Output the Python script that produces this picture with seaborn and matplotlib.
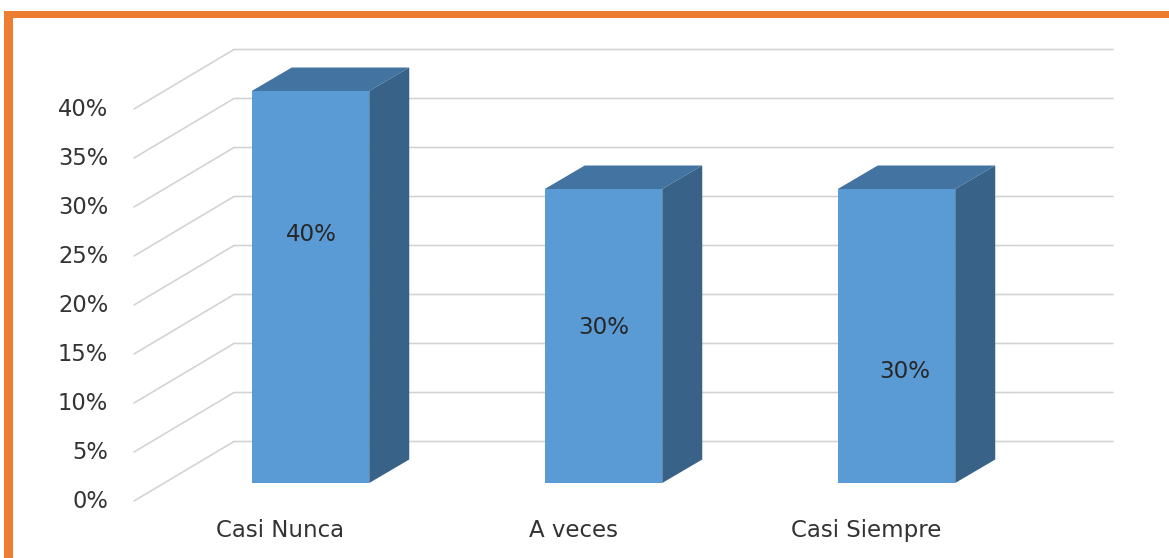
import matplotlib
matplotlib.use("Agg")
import matplotlib.pyplot as plt
import matplotlib.transforms as mtrans
from matplotlib.patches import Polygon, Rectangle
import seaborn as sns

categories = ["Casi Nunca", "A veces", "Casi Siempre"]
values = [40, 30, 30]
value_labels = ["40%", "30%", "30%"]
y_ticks = [0, 5, 10, 15, 20, 25, 30, 35, 40]
y_tick_labels = ["0%", "5%", "10%", "15%", "20%", "25%", "30%", "35%", "40%"]

W, H = 1169, 558
FRONT, TOP, SIDE = "#5B9BD5", "#4374A1", "#386288"
GRID, TEXT, ORANGE = "#D2D2D2", "#333333", "#ED7D31"

sns.set_theme(style="white")
plt.rcParams["font.family"] = ["DejaVu Sans"]

fig = plt.figure(figsize=(W / 100, H / 100), dpi=100, facecolor="white")

# Plot plane in pixels: the front face of the bars
L, R, T, B = 134, 1113, 91, 483
ax = fig.add_axes([L / W, 1 - B / H, (R - L) / W, (B - T) / H])

sns.barplot(x=categories, y=values, color=FRONT, saturation=1, width=0.401,
            ax=ax, zorder=3, linewidth=0)

SPACING, C0 = 293, 310.5
ax.set_xlim((L - C0) / SPACING, (R - C0) / SPACING)
ax.set_ylim(0, 40)
ax.set_xlabel("")
ax.set_ylabel("")
sns.despine(ax=ax, left=True, bottom=True, top=True, right=True)
ax.patch.set_alpha(0)

px_x = 1 / SPACING
px_y = 40 / (B - T)

# Walls: side wall from x=134 to x=234, back wall from x=234 to x=1113
wall_left = ax.get_xlim()[0]
wall_mid = wall_left + 100 * px_x
wall_right = ax.get_xlim()[1]
front_drop = 18 * px_y
back_rise = 41.5 * px_y
for t in y_ticks:
    ax.plot([wall_left, wall_mid, wall_right],
            [t - front_drop, t + back_rise, t + back_rise],
            color=GRID, lw=1.15, clip_on=False, zorder=1,
            solid_joinstyle="miter")

# Bar depth: top and side faces derived from each bar drawn by seaborn
dx, dy = 40 * px_x, 23.5 * px_y
for bar in ax.patches[:len(values)]:
    x0, x1 = bar.get_x(), bar.get_x() + bar.get_width()
    h = bar.get_height()
    ax.add_patch(Polygon([(x0, h), (x1, h), (x1 + dx, h + dy), (x0 + dx, h + dy)],
                         closed=True, fc=TOP, ec="none", clip_on=False, zorder=2.5))
    ax.add_patch(Polygon([(x1, 0), (x1 + dx, dy), (x1 + dx, h + dy), (x1, h)],
                         closed=True, fc=SIDE, ec="none", clip_on=False, zorder=2.5))

# Value labels: placed inside the bars at the reference's hand-moved spots
label_x_shift = [0.5, 0, 8.5]
label_heights = [25.4, 15.9, 11.4]
for i, (lab, ly, sh) in enumerate(zip(value_labels, label_heights, label_x_shift)):
    ax.text(i + sh * px_x, ly, lab, ha="center", va="center",
            fontsize=16.6, color="#262626", zorder=5)

# Axis tick labels, shifted to the front edge of the floor
ax.set_yticks(y_ticks)
ax.set_yticklabels(y_tick_labels)
ax.tick_params(axis="y", length=0, pad=18.5, labelsize=16.3, labelcolor=TEXT)
ax.tick_params(axis="x", length=0, pad=26.0, labelsize=16.5, labelcolor=TEXT)
ax.set_xticks(range(len(categories)))
ax.set_xticklabels(categories)
for lab in ax.get_yticklabels():
    lab.set_transform(lab.get_transform() +
                      mtrans.ScaledTranslation(0, -16.3 / 100, fig.dpi_scale_trans))
for lab in ax.get_xticklabels():
    lab.set_transform(lab.get_transform() +
                      mtrans.ScaledTranslation(-30 / 100, 0, fig.dpi_scale_trans))

# Orange frame
fig.add_artist(Rectangle((4 / W, 0), 9 / W, 1 - 11 / H, transform=fig.transFigure,
                         fc=ORANGE, ec="none", zorder=10))
fig.add_artist(Rectangle((4 / W, 1 - 18 / H), 1 - 4 / W, 7 / H, transform=fig.transFigure,
                         fc=ORANGE, ec="none", zorder=10))

fig.savefig("out.png", dpi=100, facecolor="white")
